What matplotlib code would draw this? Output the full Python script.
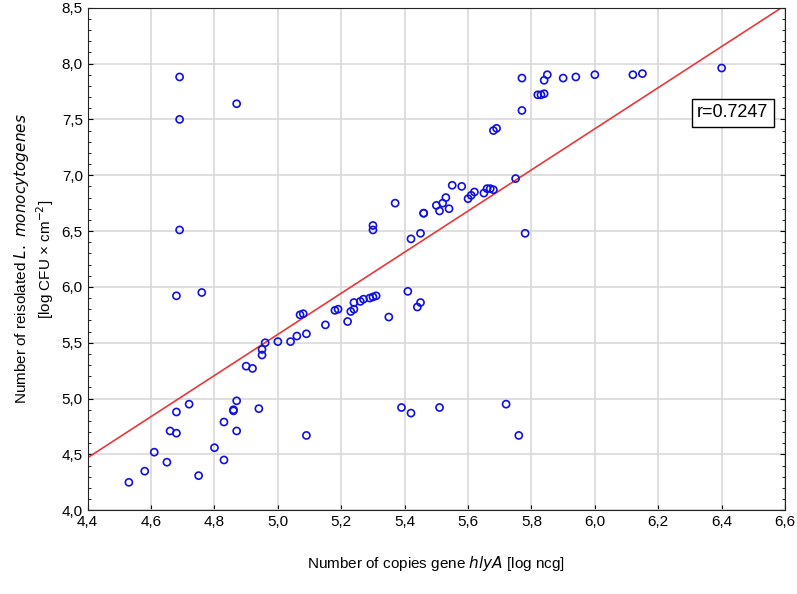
import numpy as np
import matplotlib
matplotlib.use("Agg")
import matplotlib.pyplot as plt
from matplotlib.ticker import FuncFormatter

plt.rcParams["font.family"] = "Liberation Sans"

# copies of hlyA [log ncg]
x_vals = [4.53, 4.58, 4.61, 4.65, 4.66, 4.68, 4.68, 4.72, 4.75, 4.80, 4.83, 4.83,
          4.86, 4.86, 4.87, 4.87, 4.90, 4.92, 4.94, 4.95, 4.95, 4.96, 5.00, 5.04,
          5.06, 5.07, 5.08, 5.09, 5.09, 5.15, 5.18, 5.19, 5.22, 5.23, 5.24, 5.24,
          5.26, 5.27, 5.29, 5.30, 5.31, 5.30, 5.30, 5.35, 5.37, 5.39, 5.41, 5.42,
          5.42, 5.44, 5.45, 5.45, 5.46, 5.46, 5.50, 5.51, 5.51, 5.52, 5.53, 5.54,
          5.55, 5.58, 5.60, 5.61, 5.62, 5.65, 5.66, 5.67, 5.68, 5.68, 5.69, 5.72,
          5.75, 5.76, 5.77, 5.77, 5.78, 5.82, 5.83, 5.84, 5.84, 5.85, 5.90, 5.94,
          6.00, 6.12, 6.15, 6.40, 4.69, 4.69, 4.69, 4.68, 4.76, 4.87]
# reisolated L. monocytogenes [log CFU x cm-2]
y_vals = [4.25, 4.35, 4.52, 4.43, 4.71, 4.88, 4.69, 4.95, 4.31, 4.56, 4.79, 4.45,
          4.89, 4.90, 4.98, 4.71, 5.29, 5.27, 4.91, 5.39, 5.44, 5.50, 5.51, 5.51,
          5.56, 5.75, 5.76, 5.58, 4.67, 5.66, 5.79, 5.80, 5.69, 5.78, 5.80, 5.86,
          5.87, 5.89, 5.90, 5.91, 5.92, 6.55, 6.51, 5.73, 6.75, 4.92, 5.96, 6.43,
          4.87, 5.82, 5.86, 6.48, 6.66, 6.66, 6.73, 6.68, 4.92, 6.75, 6.80, 6.70,
          6.91, 6.90, 6.79, 6.82, 6.85, 6.84, 6.88, 6.88, 6.87, 7.40, 7.42, 4.95,
          6.97, 4.67, 7.58, 7.87, 6.48, 7.72, 7.72, 7.73, 7.85, 7.90, 7.87, 7.88,
          7.90, 7.90, 7.91, 7.96, 7.88, 7.50, 6.51, 5.92, 5.95, 7.64]

# regression line
slope = 1.841
intercept = -3.63
r_text = "r=0.7247"

fig = plt.figure(figsize=(7.97, 5.94), dpi=100)
ax = fig.add_axes([0.110, 0.141, 0.875, 0.846])

ax.grid(True, color="#d9d9d9", linewidth=1.2, zorder=0)
lx = np.array([4.4, 6.6])
ax.plot(lx, intercept + slope * lx, color="#e8393a", linewidth=1.2, zorder=2)
ax.scatter(x_vals, y_vals, s=26, facecolors="none", edgecolors="#1010e0",
           linewidths=1.2, zorder=3)

ax.set_xlim(4.4, 6.6)
ax.set_ylim(4.0, 8.5)
ax.set_xticks(np.arange(4.4, 6.61, 0.2))
ax.set_yticks(np.arange(4.0, 8.51, 0.5))
ax.xaxis.set_major_formatter(FuncFormatter(lambda v, p: f"{v:.1f}".replace(".", ",")))
ax.yaxis.set_major_formatter(FuncFormatter(lambda v, p: f"{v:.1f}".replace(".", ",")))
ax.set_yticks(np.arange(4.0, 8.51, 0.1), minor=True)
ax.tick_params(which="both", direction="in", labelsize=11, right=True, top=False)
ax.tick_params(which="minor", length=2)
for s in ax.spines.values():
    s.set_color("#222222")

ax.set_xlabel("Number of copies gene $\\it{hlyA}$ [log ncg]", fontsize=11, labelpad=18)
ax.set_ylabel("Number of reisolated $\\it{L.\\ monocytogenes}$\n[log CFU × cm$^{-2}$]", fontsize=11)

ax.text(6.435, 7.56, r_text, fontsize=13, ha="center", va="center",
        bbox=dict(boxstyle="square,pad=0.3", facecolor="white", edgecolor="black"), zorder=4)

fig.savefig("out.png", dpi=100)
